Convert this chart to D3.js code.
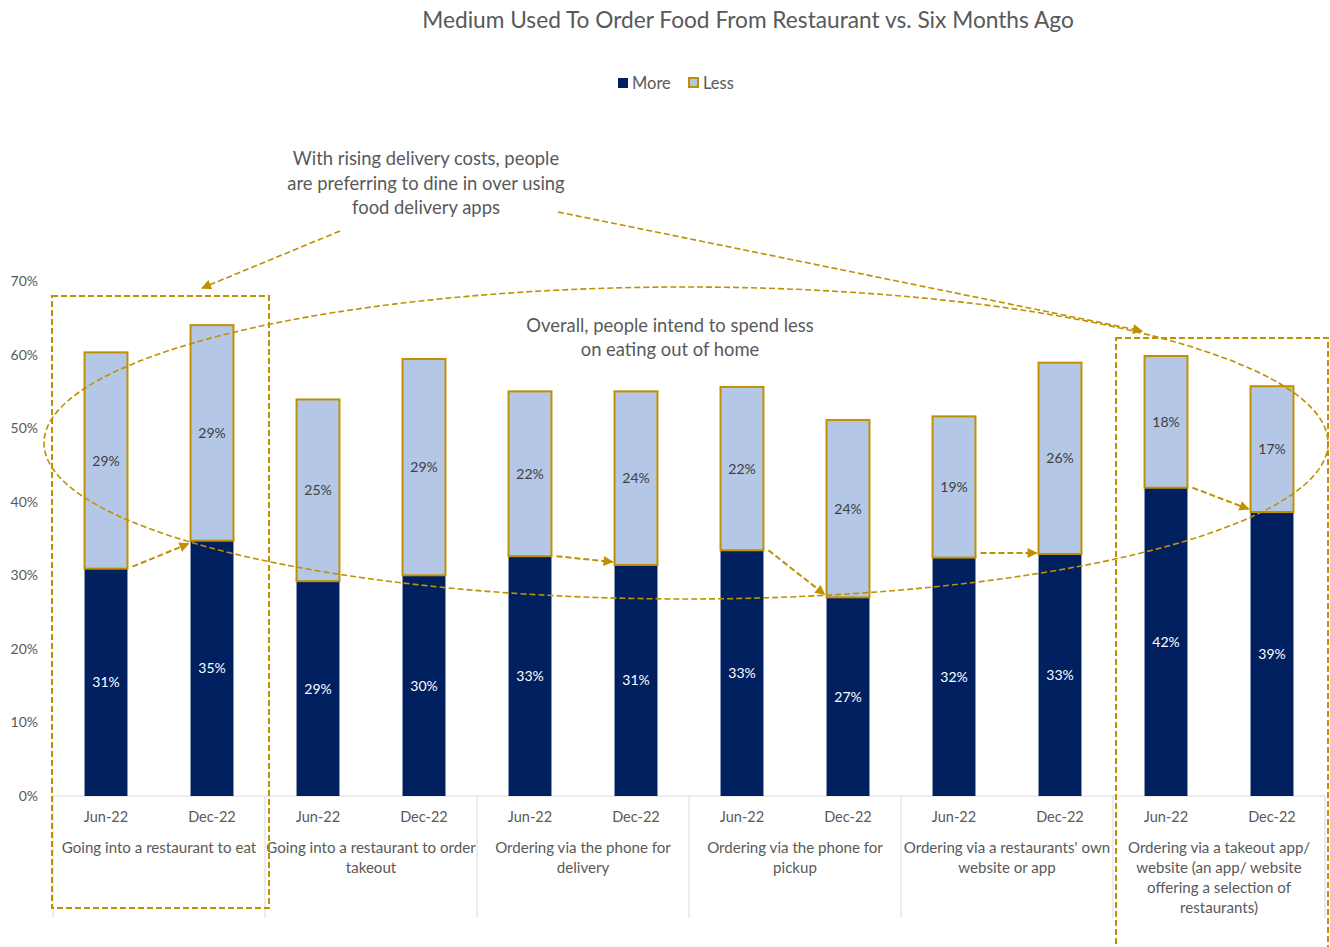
<!DOCTYPE html>
<html>
<head>
<meta charset="utf-8">
<script src="https://cdn.jsdelivr.net/npm/d3@7"></script>
<style>
  body { margin: 0; background: #fff; }
  svg text { font-family: Lato, "Open Sans", sans-serif; }
</style>
</head>
<body>
<div id="chart"></div>
<script>
// data
var groups = [
  "Going into a restaurant to eat",
  "Going into a restaurant to order takeout",
  "Ordering via the phone for delivery",
  "Ordering via the phone for pickup",
  "Ordering via a restaurants' own website or app",
  "Ordering via a takeout app/ website (an app/ website offering a selection of restaurants)"
];
var groupLines = [
  ["Going into a restaurant to eat"],
  ["Going into a restaurant to order", "takeout"],
  ["Ordering via the phone for", "delivery"],
  ["Ordering via the phone for", "pickup"],
  ["Ordering via a restaurants' own", "website or app"],
  ["Ordering via a takeout app/", "website (an app/ website", "offering a selection of", "restaurants)"]
];
var periods = ["Jun-22", "Dec-22"];
var more = [30.9, 34.7, 29.2, 30.0, 32.6, 31.4, 33.4, 27.0, 32.4, 32.9, 41.9, 38.6];
var less = [29.4, 29.3, 24.7, 29.4, 22.4, 23.6, 22.2, 24.1, 19.2, 26.0, 17.9, 17.1];
var yTicks = [0, 10, 20, 30, 40, 50, 60, 70];

var width = 1330, height = 947;
var margin = {left: 53, right: 5, top: 281, bottom: 151};
var navy = "#002060", light = "#b4c7e7", gold = "#bf9000", grey = "#595959";

var svg = d3.select("#chart").append("svg")
  .attr("width", width).attr("height", height);

var keys = [];
groups.forEach(function(g, i) {
  periods.forEach(function(p) { keys.push(i + "|" + p); });
});

var x = d3.scaleBand().domain(keys)
  .range([margin.left, width - margin.right])
  .paddingInner(0.595).paddingOuter(0.2975);
var y = d3.scaleLinear().domain([0, 70])
  .range([height - margin.bottom, margin.top]);

// title
svg.append("text").attr("x", 748).attr("y", 28)
  .attr("text-anchor", "middle").attr("font-size", 22.7).attr("fill", grey)
  .text("Medium Used To Order Food From Restaurant vs. Six Months Ago");

// legend
var legend = svg.append("g").attr("transform", "translate(618,78)");
legend.append("rect").attr("width", 10).attr("height", 10).attr("fill", navy);
legend.append("text").attr("x", 14).attr("y", 10.5).attr("font-size", 16.5).attr("fill", grey).text("More");
legend.append("rect").attr("x", 71).attr("width", 9).attr("height", 9)
  .attr("fill", light).attr("stroke", gold).attr("stroke-width", 2);
legend.append("text").attr("x", 85).attr("y", 10.5).attr("font-size", 16.5).attr("fill", grey).text("Less");

// y axis labels
svg.append("g").selectAll("text").data(yTicks).join("text")
  .attr("x", 38).attr("y", function(d) { return y(d) + 5; })
  .attr("text-anchor", "end").attr("font-size", 14).attr("fill", grey)
  .text(function(d) { return d + "%"; });

// x axis baseline and group separators
var y0 = y(0);
svg.append("line").attr("x1", margin.left).attr("x2", width - margin.right)
  .attr("y1", y0).attr("y2", y0).attr("stroke", "#d9d9d9").attr("stroke-width", 1);
var step = x.step();
d3.range(groups.length + 1).forEach(function(i) {
  var sx = margin.left + i * step * 2;
  svg.append("line").attr("x1", sx).attr("x2", sx).attr("y1", y0).attr("y2", 918)
    .attr("stroke", "#d9d9d9").attr("stroke-width", 1);
});

// bars
var bw = x.bandwidth();
var bars = svg.append("g");
keys.forEach(function(k, i) {
  var bx = x(k);
  bars.append("rect").attr("x", bx).attr("width", bw)
    .attr("y", y(more[i])).attr("height", y0 - y(more[i]))
    .attr("fill", navy);
  bars.append("rect").attr("x", bx).attr("width", bw)
    .attr("y", y(more[i] + less[i])).attr("height", y(more[i]) - y(more[i] + less[i]))
    .attr("fill", light).attr("stroke", gold).attr("stroke-width", 2);
  bars.append("text").attr("x", bx + bw / 2).attr("y", (y0 + y(more[i])) / 2 + 5)
    .attr("text-anchor", "middle").attr("font-size", 14).attr("fill", "#fff")
    .text(Math.round(more[i]) + "%");
  bars.append("text").attr("x", bx + bw / 2).attr("y", (y(more[i]) + y(more[i] + less[i])) / 2 + 5)
    .attr("text-anchor", "middle").attr("font-size", 14).attr("fill", "#404040")
    .text(Math.round(less[i]) + "%");
  svg.append("text").attr("x", bx + bw / 2).attr("y", 822)
    .attr("text-anchor", "middle").attr("font-size", 14.5).attr("fill", grey)
    .text(k.split("|")[1]);
});

// group labels
groupLines.forEach(function(lines, i) {
  var cx = margin.left + (i * 2 + 1) * step;
  svg.append("text").attr("text-anchor", "middle").attr("font-size", 15.1).attr("fill", grey)
    .selectAll("tspan").data(lines).join("tspan")
    .attr("x", cx).attr("y", function(d, j) { return 853 + j * 20; })
    .text(function(d) { return d; });
});

// annotations
var defs = svg.append("defs");
defs.append("marker").attr("id", "arr").attr("viewBox", "0 0 10 10")
  .attr("refX", 9).attr("refY", 5).attr("markerWidth", 6).attr("markerHeight", 6)
  .attr("markerUnits", "userSpaceOnUse").attr("orient", "auto-start-reverse")
  .attr("markerWidth", 12).attr("markerHeight", 10)
  .append("path").attr("d", "M0,0L10,5L0,10z").attr("fill", gold);

var ann = svg.append("g").attr("fill", "none").attr("stroke", gold);

// dashed boxes
ann.append("rect").attr("x", 52).attr("y", 296).attr("width", 217).attr("height", 612)
  .attr("stroke-width", 2).attr("stroke-dasharray", "6,3");
ann.append("rect").attr("x", 1116).attr("y", 338).attr("width", 212).attr("height", 640)
  .attr("stroke-width", 2).attr("stroke-dasharray", "6,3");

// ellipse
ann.append("ellipse").attr("cx", 686).attr("cy", 443).attr("rx", 642).attr("ry", 156)
  .attr("stroke-width", 1.6).attr("stroke-dasharray", "6,3");

// long arrows from the text
ann.append("line").attr("x1", 340).attr("y1", 231).attr("x2", 202).attr("y2", 288)
  .attr("stroke-width", 1.6).attr("stroke-dasharray", "6,3").attr("marker-end", "url(#arr)");
ann.append("line").attr("x1", 558).attr("y1", 212).attr("x2", 1142).attr("y2", 331)
  .attr("stroke-width", 1.6).attr("stroke-dasharray", "6,3").attr("marker-end", "url(#arr)");

// short arrows between Jun and Dec bars
[0, 4, 6, 8, 10].forEach(function(i) {
  var x1 = x(keys[i]) + bw + 5, x2 = x(keys[i + 1]) - 2;
  var ya = y(more[i]), yb = y(more[i + 1]);
  if (Math.abs(yb - ya) < 6) { ya = yb = Math.min(ya, yb) - 1; }
  ann.append("line").attr("x1", x1).attr("y1", ya + (i === 0 ? -2 : 0))
    .attr("x2", x2).attr("y2", yb + (yb > ya + 1 ? -3 : (yb < ya - 1 ? 3 : 0)))
    .attr("stroke-width", 2).attr("stroke-dasharray", "6,3").attr("marker-end", "url(#arr)");
});

// annotation texts
svg.append("text").attr("text-anchor", "middle").attr("font-size", 18.4).attr("fill", grey)
  .selectAll("tspan").data(["With rising delivery costs, people", "are preferring to dine in over using", "food delivery apps"])
  .join("tspan").attr("x", 426).attr("y", function(d, j) { return 165 + j * 24.5; })
  .text(function(d) { return d; });
svg.append("text").attr("text-anchor", "middle").attr("font-size", 18.4).attr("fill", grey)
  .selectAll("tspan").data(["Overall, people intend to spend less", "on eating out of home"])
  .join("tspan").attr("x", 670).attr("y", function(d, j) { return 332 + j * 24; })
  .text(function(d) { return d; });
</script>
</body>
</html>
